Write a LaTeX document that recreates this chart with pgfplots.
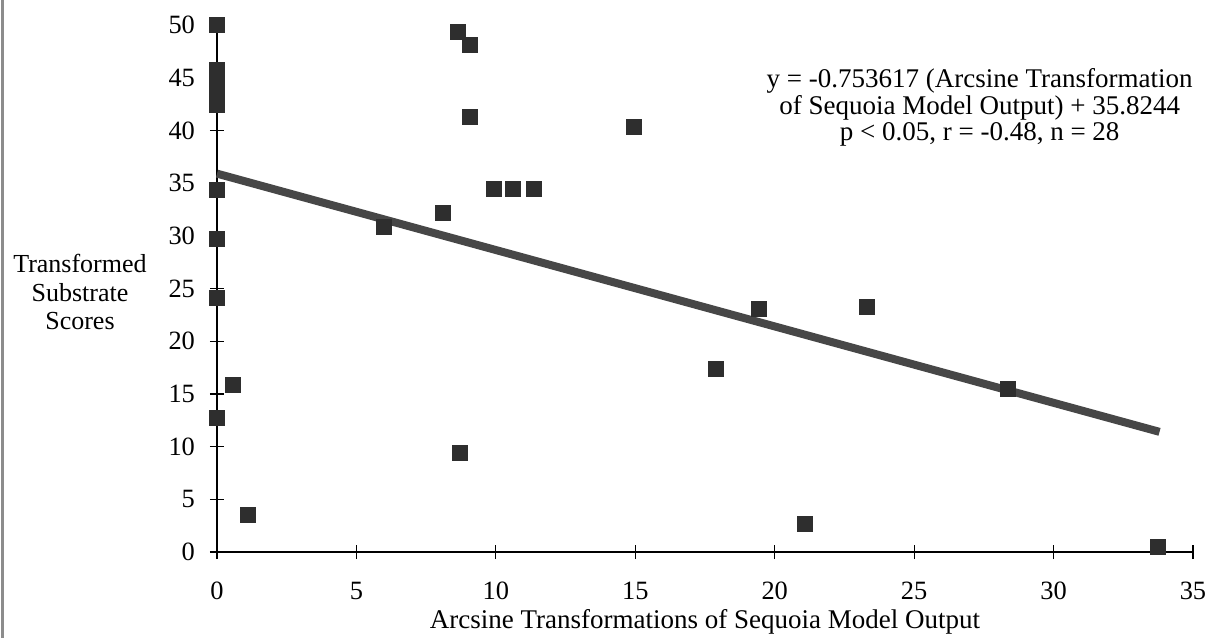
\documentclass[border=0pt]{standalone}
\usepackage{pgfplots}
\pgfplotsset{compat=1.18}
\usepackage{fontspec}
\setmainfont{Liberation Serif}
\begin{document}
\begin{tikzpicture}
\useasboundingbox (-108.5pt,-43pt) rectangle (497.5pt,276pt);
\draw[black!45, line width=1.5pt] (-107pt,-43pt) -- (-107pt,276pt);
\begin{axis}[
  at={(0pt,0pt)}, anchor=origin,
  scale only axis,
  width=488pt, height=263.5pt,
  xmin=0, xmax=35, ymin=0, ymax=50,
  axis lines*=left,
  axis line style={black, line width=0.75pt},
  clip=false,
  xtick={0,5,...,35}, ytick={0,5,...,50},
  tick align=center,
  major tick length=7pt,
  tick style={black, line width=0.6pt},
  /pgf/number format/assume math mode=true,
  ticklabel style={font=\fontsize{13.2}{15}\selectfont},
  xticklabel style={yshift=-8pt},
  yticklabel style={xshift=-4pt},
  xlabel={Arcsine Transformations of Sequoia Model Output},
  every axis x label/.style={at={(axis description cs:0.5,-0.1328)}, anchor=center, font=\fontsize{13.5}{15}\selectfont},
  ylabel={Transformed\\Substrate\\Scores},
  every axis y label/.style={at={(axis description cs:-0.1404,0.493)}, anchor=center, align=center, font=\fontsize{13}{14.25}\selectfont},
]
\addplot[black!72, line width=4pt, no marks] coordinates {(0,35.9) (33.8,11.4)};
\addplot[only marks, mark=square*, mark size=3.75pt, mark options={fill=black!82, draw=black!82, line width=0pt}] coordinates {
(0,50) (0,45.7) (0,44.9) (0,44.0) (0,43.2) (0,42.4)
(0,34.3) (0,29.7) (0,24.1) (0,12.7)
(0.57,15.8) (1.1,3.5) (6.0,30.8) (8.64,49.3) (9.07,48.1) (9.07,41.3)
(14.95,40.3) (9.93,34.4) (10.6,34.4) (11.36,34.4) (8.1,32.2)
(19.43,23.1) (23.3,23.2) (17.9,17.4) (28.35,15.5) (21.1,2.65)
(33.76,0.5) (8.71,9.4)
};
\node[align=center, font=\fontsize{13.5}{11.6}\selectfont] at (axis cs:27.35,42.2)
  {y = -0.753617 (Arcsine Transformation\\of Sequoia Model Output) + 35.8244\\p < 0.05, r = -0.48, n = 28};
\end{axis}
\end{tikzpicture}
\end{document}
